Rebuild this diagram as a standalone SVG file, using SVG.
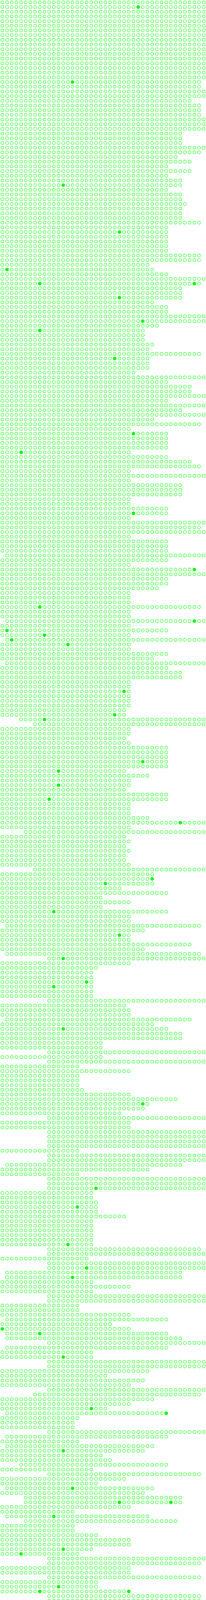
<svg xmlns="http://www.w3.org/2000/svg" width="528" height="4560" viewBox="0 0 528 4560">
<defs>
<pattern id="c" patternUnits="userSpaceOnUse" x="0" y="0" width="12" height="12">
<circle cx="6" cy="6" r="4" fill="none" stroke="#00ff00" stroke-width="1"/>
</pattern>
</defs>
<style>
.on{fill:#00ff00;stroke:#00ff00;stroke-width:1}
</style>
<rect width="528" height="4560" fill="#ffffff"/>
<g id="rows" fill="url(#c)">
<rect x="0" y="0" width="528" height="204"/>
<rect x="0" y="204" width="516" height="24"/>
<rect x="0" y="228" width="528" height="24"/>
<rect x="0" y="252" width="492" height="12"/>
<rect x="0" y="264" width="516" height="36"/>
<rect x="0" y="300" width="528" height="36"/>
<rect x="0" y="336" width="468" height="36"/>
<rect x="0" y="372" width="528" height="12"/>
<rect x="0" y="384" width="516" height="12"/>
<rect x="0" y="396" width="456" height="12"/>
<rect x="0" y="408" width="492" height="12"/>
<rect x="0" y="420" width="432" height="12"/>
<rect x="0" y="432" width="492" height="12"/>
<rect x="0" y="444" width="432" height="12"/>
<rect x="0" y="456" width="468" height="24"/>
<rect x="0" y="480" width="432" height="12"/>
<rect x="0" y="492" width="468" height="24"/>
<rect x="0" y="516" width="480" height="12"/>
<rect x="0" y="528" width="468" height="36"/>
<rect x="0" y="564" width="516" height="12"/>
<rect x="0" y="576" width="432" height="72"/>
<rect x="0" y="648" width="516" height="24"/>
<rect x="0" y="672" width="384" height="12"/>
<rect x="0" y="684" width="396" height="12"/>
<rect x="0" y="696" width="432" height="12"/>
<rect x="0" y="708" width="528" height="12"/>
<rect x="0" y="720" width="516" height="12"/>
<rect x="0" y="732" width="468" height="36"/>
<rect x="0" y="768" width="396" height="12"/>
<rect x="0" y="780" width="432" height="24"/>
<rect x="0" y="804" width="528" height="24"/>
<rect x="0" y="828" width="408" height="12"/>
<rect x="0" y="840" width="372" height="36"/>
<rect x="0" y="876" width="396" height="12"/>
<rect x="0" y="888" width="384" height="12"/>
<rect x="0" y="900" width="516" height="12"/>
<rect x="0" y="912" width="384" height="36"/>
<rect x="0" y="948" width="348" height="12"/>
<rect x="0" y="960" width="528" height="12"/>
<rect x="0" y="972" width="432" height="12"/>
<rect x="0" y="984" width="492" height="24"/>
<rect x="0" y="1008" width="528" height="12"/>
<rect x="0" y="1020" width="432" height="12"/>
<rect x="0" y="1032" width="528" height="12"/>
<rect x="0" y="1044" width="468" height="12"/>
<rect x="0" y="1056" width="528" height="12"/>
<rect x="0" y="1068" width="396" height="12"/>
<rect x="0" y="1080" width="516" height="12"/>
<rect x="0" y="1092" width="336" height="12"/>
<rect x="0" y="1104" width="432" height="48"/>
<rect x="0" y="1152" width="336" height="12"/>
<rect x="0" y="1164" width="432" height="12"/>
<rect x="0" y="1176" width="492" height="12"/>
<rect x="0" y="1188" width="516" height="12"/>
<rect x="0" y="1200" width="336" height="12"/>
<rect x="0" y="1212" width="528" height="12"/>
<rect x="0" y="1224" width="336" height="12"/>
<rect x="0" y="1236" width="468" height="36"/>
<rect x="0" y="1272" width="336" height="24"/>
<rect x="0" y="1296" width="432" height="24"/>
<rect x="0" y="1320" width="336" height="12"/>
<rect x="0" y="1332" width="528" height="12"/>
<rect x="0" y="1344" width="516" height="12"/>
<rect x="0" y="1356" width="528" height="12"/>
<rect x="0" y="1368" width="336" height="12"/>
<rect x="0" y="1380" width="432" height="36"/>
<rect x="12" y="1416" width="516" height="12"/>
<rect x="0" y="1428" width="432" height="12"/>
<rect x="0" y="1440" width="336" height="12"/>
<rect x="0" y="1452" width="504" height="12"/>
<rect x="0" y="1464" width="528" height="12"/>
<rect x="0" y="1476" width="432" height="24"/>
<rect x="0" y="1500" width="408" height="12"/>
<rect x="0" y="1512" width="336" height="36"/>
<rect x="0" y="1548" width="516" height="12"/>
<rect x="0" y="1560" width="336" height="24"/>
<rect x="12" y="1584" width="516" height="12"/>
<rect x="0" y="1596" width="336" height="12"/>
<rect x="0" y="1608" width="432" height="12"/>
<rect x="0" y="1620" width="336" height="12"/>
<rect x="12" y="1632" width="516" height="12"/>
<rect x="0" y="1644" width="336" height="24"/>
<rect x="0" y="1668" width="432" height="12"/>
<rect x="0" y="1680" width="396" height="12"/>
<rect x="12" y="1692" width="516" height="12"/>
<rect x="0" y="1704" width="432" height="12"/>
<rect x="0" y="1716" width="468" height="24"/>
<rect x="0" y="1740" width="336" height="72"/>
<rect x="0" y="1812" width="324" height="24"/>
<rect x="48" y="1836" width="480" height="12"/>
<rect x="84" y="1848" width="444" height="12"/>
<rect x="0" y="1860" width="336" height="24"/>
<rect x="0" y="1884" width="324" height="12"/>
<rect x="0" y="1896" width="336" height="12"/>
<rect x="0" y="1908" width="432" height="60"/>
<rect x="0" y="1968" width="324" height="12"/>
<rect x="0" y="1980" width="384" height="12"/>
<rect x="0" y="1992" width="336" height="24"/>
<rect x="0" y="2016" width="324" height="12"/>
<rect x="0" y="2028" width="432" height="24"/>
<rect x="0" y="2052" width="336" height="36"/>
<rect x="0" y="2088" width="384" height="12"/>
<rect x="0" y="2100" width="528" height="12"/>
<rect x="0" y="2112" width="336" height="12"/>
<rect x="60" y="2124" width="468" height="12"/>
<rect x="0" y="2136" width="324" height="12"/>
<rect x="0" y="2148" width="336" height="12"/>
<rect x="0" y="2160" width="324" height="12"/>
<rect x="0" y="2172" width="336" height="12"/>
<rect x="0" y="2184" width="324" height="24"/>
<rect x="0" y="2208" width="336" height="12"/>
<rect x="84" y="2220" width="444" height="12"/>
<rect x="0" y="2232" width="396" height="36"/>
<rect x="0" y="2268" width="312" height="12"/>
<rect x="0" y="2280" width="432" height="12"/>
<rect x="0" y="2292" width="264" height="12"/>
<rect x="0" y="2304" width="336" height="12"/>
<rect x="0" y="2316" width="264" height="12"/>
<rect x="0" y="2328" width="432" height="12"/>
<rect x="0" y="2340" width="336" height="24"/>
<rect x="12" y="2364" width="504" height="12"/>
<rect x="0" y="2376" width="372" height="12"/>
<rect x="0" y="2388" width="336" height="24"/>
<rect x="0" y="2412" width="492" height="12"/>
<rect x="0" y="2424" width="372" height="12"/>
<rect x="12" y="2436" width="504" height="12"/>
<rect x="120" y="2448" width="408" height="12"/>
<rect x="0" y="2460" width="336" height="12"/>
<rect x="0" y="2472" width="252" height="12"/>
<rect x="0" y="2484" width="240" height="72"/>
<rect x="120" y="2556" width="408" height="12"/>
<rect x="0" y="2568" width="324" height="12"/>
<rect x="0" y="2580" width="336" height="24"/>
<rect x="12" y="2604" width="480" height="12"/>
<rect x="0" y="2616" width="396" height="12"/>
<rect x="0" y="2628" width="432" height="12"/>
<rect x="0" y="2640" width="468" height="24"/>
<rect x="0" y="2664" width="264" height="24"/>
<rect x="120" y="2688" width="408" height="12"/>
<rect x="0" y="2700" width="264" height="12"/>
<rect x="120" y="2712" width="408" height="12"/>
<rect x="0" y="2724" width="204" height="12"/>
<rect x="0" y="2736" width="336" height="12"/>
<rect x="0" y="2748" width="204" height="36"/>
<rect x="0" y="2784" width="216" height="12"/>
<rect x="0" y="2796" width="336" height="12"/>
<rect x="0" y="2808" width="456" height="12"/>
<rect x="0" y="2820" width="384" height="12"/>
<rect x="0" y="2832" width="372" height="12"/>
<rect x="0" y="2844" width="312" height="12"/>
<rect x="120" y="2856" width="408" height="12"/>
<rect x="0" y="2868" width="336" height="24"/>
<rect x="120" y="2892" width="408" height="48"/>
<rect x="0" y="2940" width="204" height="12"/>
<rect x="120" y="2952" width="408" height="24"/>
<rect x="12" y="2976" width="456" height="12"/>
<rect x="0" y="2988" width="384" height="12"/>
<rect x="0" y="3000" width="204" height="12"/>
<rect x="120" y="3012" width="408" height="36"/>
<rect x="0" y="3048" width="240" height="24"/>
<rect x="0" y="3072" width="252" height="36"/>
<rect x="0" y="3108" width="324" height="12"/>
<rect x="0" y="3120" width="240" height="72"/>
<rect x="120" y="3192" width="396" height="12"/>
<rect x="120" y="3204" width="408" height="12"/>
<rect x="0" y="3216" width="228" height="12"/>
<rect x="120" y="3228" width="408" height="24"/>
<rect x="12" y="3252" width="456" height="24"/>
<rect x="0" y="3276" width="240" height="12"/>
<rect x="0" y="3288" width="336" height="12"/>
<rect x="0" y="3300" width="240" height="12"/>
<rect x="120" y="3312" width="408" height="24"/>
<rect x="0" y="3336" width="204" height="24"/>
<rect x="0" y="3360" width="336" height="12"/>
<rect x="12" y="3372" width="420" height="12"/>
<rect x="0" y="3384" width="288" height="12"/>
<rect x="0" y="3396" width="336" height="12"/>
<rect x="12" y="3408" width="420" height="12"/>
<rect x="12" y="3420" width="456" height="12"/>
<rect x="120" y="3432" width="408" height="12"/>
<rect x="12" y="3444" width="420" height="12"/>
<rect x="0" y="3456" width="240" height="24"/>
<rect x="120" y="3480" width="408" height="24"/>
<rect x="0" y="3504" width="384" height="12"/>
<rect x="0" y="3516" width="276" height="12"/>
<rect x="0" y="3528" width="372" height="12"/>
<rect x="0" y="3540" width="336" height="12"/>
<rect x="120" y="3552" width="408" height="12"/>
<rect x="84" y="3564" width="432" height="12"/>
<rect x="0" y="3576" width="396" height="12"/>
<rect x="0" y="3588" width="336" height="12"/>
<rect x="0" y="3600" width="276" height="12"/>
<rect x="12" y="3612" width="420" height="12"/>
<rect x="0" y="3624" width="204" height="12"/>
<rect x="0" y="3636" width="192" height="24"/>
<rect x="120" y="3660" width="408" height="12"/>
<rect x="12" y="3672" width="420" height="12"/>
<rect x="0" y="3684" width="204" height="12"/>
<rect x="12" y="3696" width="384" height="12"/>
<rect x="0" y="3708" width="372" height="12"/>
<rect x="0" y="3720" width="264" height="12"/>
<rect x="0" y="3732" width="288" height="12"/>
<rect x="48" y="3744" width="384" height="12"/>
<rect x="0" y="3756" width="240" height="12"/>
<rect x="120" y="3768" width="396" height="12"/>
<rect x="0" y="3780" width="324" height="12"/>
<rect x="0" y="3792" width="252" height="12"/>
<rect x="12" y="3804" width="384" height="12"/>
<rect x="0" y="3816" width="372" height="12"/>
<rect x="60" y="3828" width="408" height="24"/>
<rect x="0" y="3852" width="336" height="12"/>
<rect x="0" y="3864" width="192" height="12"/>
<rect x="12" y="3876" width="372" height="12"/>
<rect x="60" y="3888" width="396" height="12"/>
<rect x="0" y="3900" width="192" height="24"/>
<rect x="0" y="3924" width="252" height="12"/>
<rect x="0" y="3936" width="336" height="24"/>
<rect x="0" y="3960" width="240" height="12"/>
<rect x="0" y="3972" width="204" height="12"/>
<rect x="120" y="3984" width="408" height="12"/>
<rect x="120" y="3996" width="396" height="12"/>
<rect x="0" y="4008" width="336" height="24"/>
<rect x="120" y="4032" width="396" height="12"/>
<rect x="0" y="4044" width="252" height="24"/>
<rect x="0" y="4068" width="336" height="12"/>
<rect x="120" y="4080" width="396" height="36"/>
<rect x="120" y="4116" width="408" height="12"/>
<rect x="0" y="4128" width="324" height="12"/>
<rect x="0" y="4140" width="336" height="12"/>
<rect x="120" y="4152" width="396" height="12"/>
<rect x="12" y="4164" width="360" height="12"/>
<rect x="0" y="4176" width="336" height="12"/>
<rect x="48" y="4188" width="348" height="12"/>
<rect x="0" y="4200" width="252" height="12"/>
<rect x="120" y="4212" width="408" height="12"/>
<rect x="0" y="4224" width="336" height="48"/>
<rect x="0" y="4272" width="264" height="12"/>
<rect x="0" y="4284" width="240" height="12"/>
<rect x="0" y="4296" width="204" height="24"/>
<rect x="0" y="4320" width="264" height="12"/>
<rect x="0" y="4332" width="336" height="12"/>
<rect x="120" y="4344" width="396" height="24"/>
<rect x="0" y="4368" width="204" height="12"/>
<rect x="12" y="4380" width="324" height="12"/>
<rect x="120" y="4392" width="372" height="24"/>
<rect x="0" y="4416" width="336" height="36"/>
<rect x="0" y="4452" width="204" height="12"/>
<rect x="0" y="4464" width="324" height="12"/>
<rect x="120" y="4476" width="396" height="12"/>
<rect x="0" y="4488" width="276" height="12"/>
<rect x="0" y="4500" width="240" height="12"/>
<rect x="120" y="4512" width="396" height="12"/>
<rect x="0" y="4524" width="204" height="12"/>
<rect x="120" y="4536" width="312" height="24"/>
</g>
<g id="filled">
<circle class="on" cx="354" cy="18" r="4"/>
<circle class="on" cx="186" cy="210" r="4"/>
<circle class="on" cx="162" cy="474" r="4"/>
<circle class="on" cx="306" cy="594" r="4"/>
<circle class="on" cx="18" cy="690" r="4"/>
<circle class="on" cx="102" cy="726" r="4"/>
<circle class="on" cx="498" cy="726" r="4"/>
<circle class="on" cx="306" cy="762" r="4"/>
<circle class="on" cx="366" cy="822" r="4"/>
<circle class="on" cx="102" cy="846" r="4"/>
<circle class="on" cx="294" cy="918" r="4"/>
<circle class="on" cx="342" cy="1110" r="4"/>
<circle class="on" cx="54" cy="1158" r="4"/>
<circle class="on" cx="342" cy="1314" r="4"/>
<circle class="on" cx="498" cy="1458" r="4"/>
<circle class="on" cx="102" cy="1554" r="4"/>
<circle class="on" cx="498" cy="1590" r="4"/>
<circle class="on" cx="18" cy="1614" r="4"/>
<circle class="on" cx="114" cy="1626" r="4"/>
<circle class="on" cx="30" cy="1638" r="4"/>
<circle class="on" cx="174" cy="1650" r="4"/>
<circle class="on" cx="318" cy="1770" r="4"/>
<circle class="on" cx="294" cy="1830" r="4"/>
<circle class="on" cx="114" cy="1842" r="4"/>
<circle class="on" cx="366" cy="1950" r="4"/>
<circle class="on" cx="150" cy="1974" r="4"/>
<circle class="on" cx="150" cy="2010" r="4"/>
<circle class="on" cx="126" cy="2046" r="4"/>
<circle class="on" cx="462" cy="2106" r="4"/>
<circle class="on" cx="390" cy="2250" r="4"/>
<circle class="on" cx="270" cy="2262" r="4"/>
<circle class="on" cx="138" cy="2334" r="4"/>
<circle class="on" cx="306" cy="2394" r="4"/>
<circle class="on" cx="162" cy="2454" r="4"/>
<circle class="on" cx="222" cy="2514" r="4"/>
<circle class="on" cx="138" cy="2526" r="4"/>
<circle class="on" cx="162" cy="2634" r="4"/>
<circle class="on" cx="366" cy="2826" r="4"/>
<circle class="on" cx="246" cy="3042" r="4"/>
<circle class="on" cx="198" cy="3090" r="4"/>
<circle class="on" cx="174" cy="3186" r="4"/>
<circle class="on" cx="222" cy="3246" r="4"/>
<circle class="on" cx="186" cy="3270" r="4"/>
<circle class="on" cx="6" cy="3402" r="4"/>
<circle class="on" cx="102" cy="3414" r="4"/>
<circle class="on" cx="162" cy="3474" r="4"/>
<circle class="on" cx="234" cy="3606" r="4"/>
<circle class="on" cx="426" cy="3618" r="4"/>
<circle class="on" cx="162" cy="3714" r="4"/>
<circle class="on" cx="186" cy="3810" r="4"/>
<circle class="on" cx="306" cy="3846" r="4"/>
<circle class="on" cx="438" cy="3846" r="4"/>
<circle class="on" cx="138" cy="3882" r="4"/>
<circle class="on" cx="162" cy="3966" r="4"/>
<circle class="on" cx="54" cy="3978" r="4"/>
<circle class="on" cx="150" cy="4062" r="4"/>
<circle class="on" cx="102" cy="4074" r="4"/>
<circle class="on" cx="330" cy="4074" r="4"/>
<circle class="on" cx="174" cy="4110" r="4"/>
<circle class="on" cx="150" cy="4122" r="4"/>
<circle class="on" cx="42" cy="4170" r="4"/>
<circle class="on" cx="186" cy="4170" r="4"/>
<circle class="on" cx="282" cy="4386" r="4"/>
<circle class="on" cx="18" cy="4446" r="4"/>
<circle class="on" cx="246" cy="4494" r="4"/>
<circle class="on" cx="150" cy="4518" r="4"/>
<circle class="on" cx="186" cy="4530" r="4"/>
</g>
</svg>
